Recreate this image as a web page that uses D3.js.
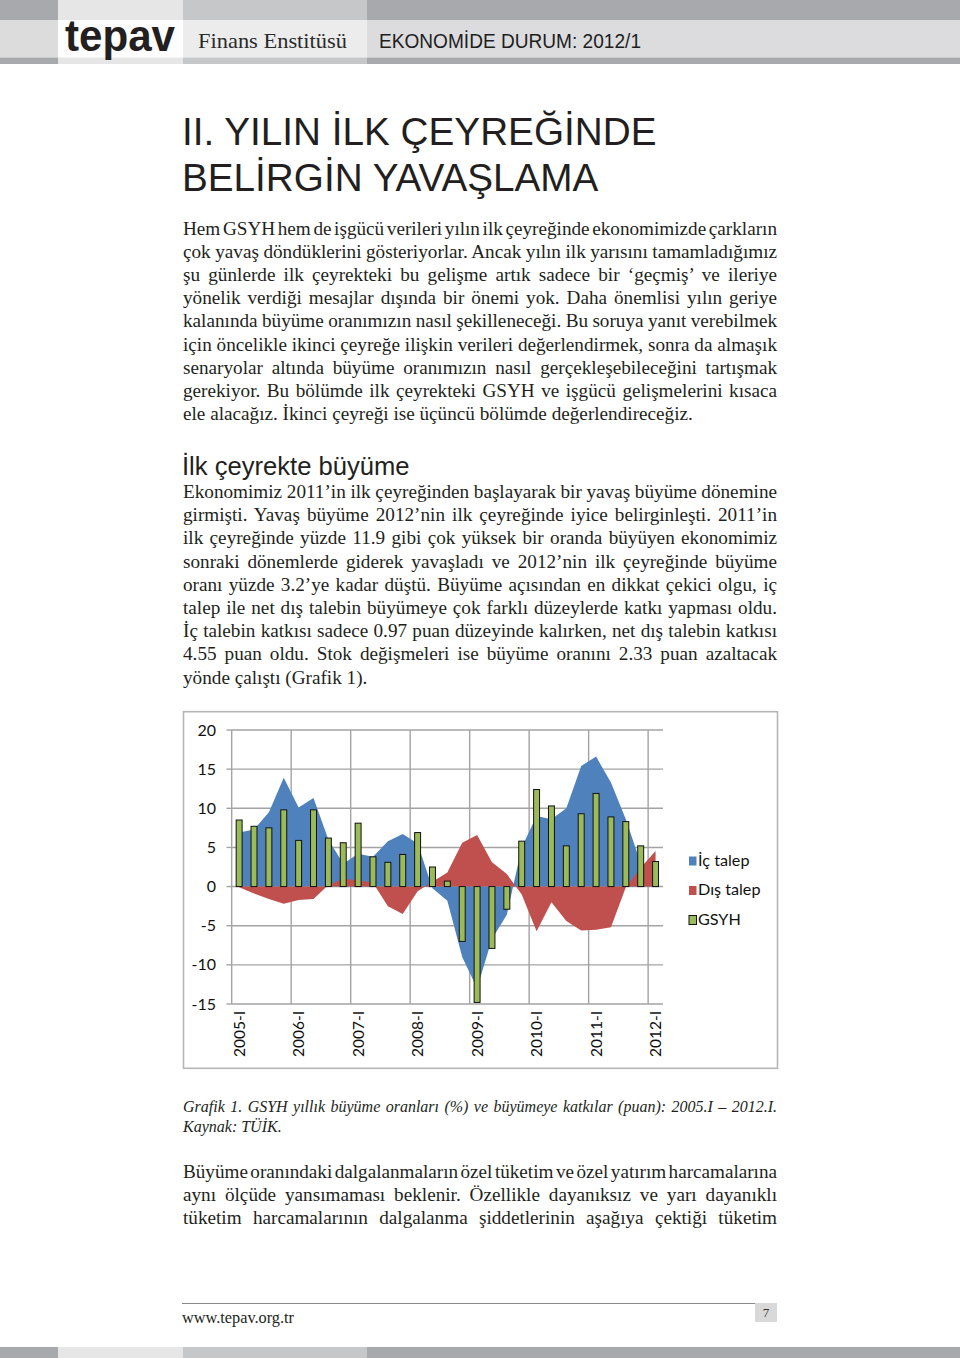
<!DOCTYPE html>
<html><head><meta charset="utf-8">
<script src="https://cdn.jsdelivr.net/npm/d3@7/dist/d3.min.js"></script>
<style>body{margin:0;background:#fff}svg{display:block}</style>
</head><body>
<svg id="page" width="960" height="1358"></svg>
<script>
// ---------- DATA ----------
const quarters = ["2005-I","2005-II","2005-III","2005-IV","2006-I","2006-II","2006-III","2006-IV",
  "2007-I","2007-II","2007-III","2007-IV","2008-I","2008-II","2008-III","2008-IV",
  "2009-I","2009-II","2009-III","2009-IV","2010-I","2010-II","2010-III","2010-IV",
  "2011-I","2011-II","2011-III","2011-IV","2012-I"];
const tickQuarters = ["2005-I","2006-I","2007-I","2008-I","2009-I","2010-I","2011-I","2012-I"];
const icTalep = [6.9, 7.3, 9.5, 13.9, 10.1, 11.3, 6.0, 2.9, 4.2, 3.8, 5.8, 6.7, 5.5, -0.2, -1.8,
  -9.0, -13.0, -6.7, -3.6, 5.0, 9.0, 8.6, 10.0, 15.4, 16.6, 13.3, 8.6, 3.0, 0.97];
const disTalep = [-0.1, -0.9, -1.6, -2.2, -1.7, -1.6, 0.2, 1.0, 0.8, 0.5, -2.5, -3.5, -0.6, 0.6, 1.8,
  5.6, 6.6, 3.1, 1.6, -1.0, -5.7, -2.0, -4.4, -5.6, -5.5, -5.2, -0.1, 2.4, 4.55];
const gsyh = [8.5, 7.7, 7.5, 9.8, 5.9, 9.8, 6.2, 5.6, 8.1, 3.8, 3.1, 4.1, 6.9, 2.5, 0.7,
  -7.0, -14.8, -7.9, -2.9, 5.8, 12.4, 10.3, 5.2, 9.3, 11.9, 8.9, 8.3, 5.2, 3.2];
const yTicks = [20, 15, 10, 5, 0, -5, -10, -15];
const legendLabels = ["İç talep", "Dış talep", "GSYH"];

const headerLogo = "tepav";
const headerInstitute = "Finans Enstitüsü";
const headerIssue = "EKONOMİDE DURUM: 2012/1";
const titleLines = ["II. YILIN İLK ÇEYREĞİNDE", "BELİRGİN YAVAŞLAMA"];
const para1 = [
  "Hem GSYH hem de işgücü verileri yılın ilk çeyreğinde ekonomimizde çarkların",
  "çok yavaş döndüklerini gösteriyorlar. Ancak yılın ilk yarısını tamamladığımız",
  "şu günlerde ilk çeyrekteki bu gelişme artık sadece bir ‘geçmiş’ ve ileriye",
  "yönelik verdiği mesajlar dışında bir önemi yok. Daha önemlisi yılın geriye",
  "kalanında büyüme oranımızın nasıl şekilleneceği. Bu soruya yanıt verebilmek",
  "için öncelikle ikinci çeyreğe ilişkin verileri değerlendirmek, sonra da almaşık",
  "senaryolar altında büyüme oranımızın nasıl gerçekleşebileceğini tartışmak",
  "gerekiyor. Bu bölümde ilk çeyrekteki GSYH ve işgücü gelişmelerini kısaca",
  "ele alacağız. İkinci çeyreği ise üçüncü bölümde değerlendireceğiz."
];
const heading2 = "İlk çeyrekte büyüme";
const para2 = [
  "Ekonomimiz 2011’in ilk çeyreğinden başlayarak bir yavaş büyüme dönemine",
  "girmişti. Yavaş büyüme 2012’nin ilk çeyreğinde iyice belirginleşti. 2011’in",
  "ilk çeyreğinde yüzde 11.9 gibi çok yüksek bir oranda büyüyen ekonomimiz",
  "sonraki dönemlerde giderek yavaşladı ve 2012’nin ilk çeyreğinde büyüme",
  "oranı yüzde 3.2’ye kadar düştü. Büyüme açısından en dikkat çekici olgu, iç",
  "talep ile net dış talebin büyümeye çok farklı düzeylerde katkı yapması oldu.",
  "İç talebin katkısı sadece 0.97 puan düzeyinde kalırken, net dış talebin katkısı",
  "4.55 puan oldu. Stok değişmeleri ise büyüme oranını 2.33 puan azaltacak",
  "yönde çalıştı (Grafik 1)."
];
const caption = [
  "Grafik 1. GSYH yıllık büyüme oranları (%) ve büyümeye katkılar (puan): 2005.I – 2012.I.",
  "Kaynak: TÜİK."
];
const para3 = [
  "Büyüme oranındaki dalgalanmaların özel tüketim ve özel yatırım harcamalarına",
  "aynı ölçüde yansımaması beklenir. Özellikle dayanıksız ve yarı dayanıklı",
  "tüketim harcamalarının dalgalanma şiddetlerinin aşağıya çektiği tüketim"
];
const footerUrl = "www.tepav.org.tr";
const pageNumber = "7";

// ---------- PAGE ----------
const svg = d3.select("#page");
const ink = "#231f20";
const serif = "'Liberation Serif', 'Times New Roman', serif";
const sans = "'Liberation Sans', Arial, sans-serif";

// header / footer bands
const segs = [[0, 58], [58, 183], [183, 367], [367, 960]];
const stripCol = ["#a8a9ac", "#e6e6e7", "#c6c7c9", "#a8a9ac"];
const bandCol = ["#dcdcdd", "#fdfdfd", "#ececed", "#dcdcde"];
segs.forEach((s, i) => {
  svg.append("rect").attr("x", s[0]).attr("y", 0).attr("width", s[1] - s[0]).attr("height", 20).attr("fill", stripCol[i]);
  svg.append("rect").attr("x", s[0]).attr("y", 20).attr("width", s[1] - s[0]).attr("height", 37.5).attr("fill", bandCol[i]);
  svg.append("rect").attr("x", s[0]).attr("y", 57.5).attr("width", s[1] - s[0]).attr("height", 6.5).attr("fill", stripCol[i]);
  svg.append("rect").attr("x", s[0]).attr("y", 1347).attr("width", s[1] - s[0]).attr("height", 11).attr("fill", stripCol[i]);
});
svg.append("text").text(headerLogo).attr("x", 65).attr("y", 51).attr("font-family", sans)
  .attr("font-weight", "bold").attr("font-size", 44).attr("fill", ink)
  .attr("textLength", 110).attr("lengthAdjust", "spacingAndGlyphs");
svg.append("text").text(headerInstitute).attr("x", 198).attr("y", 48).attr("font-family", serif)
  .attr("font-size", 21).attr("fill", "#2a2a2a").attr("textLength", 149).attr("lengthAdjust", "spacingAndGlyphs");
svg.append("text").text(headerIssue).attr("x", 379).attr("y", 47.5).attr("font-family", sans)
  .attr("font-size", 20).attr("fill", "#1e1e1e").attr("textLength", 262).attr("lengthAdjust", "spacingAndGlyphs");

// title
titleLines.forEach((t, i) => {
  svg.append("text").text(t).attr("x", 182).attr("y", [145, 191][i]).attr("font-family", sans)
    .attr("font-size", 38.7).attr("fill", ink);
});

// justified text helper
const LEFT = 183, WIDTH = 594;
function textBlock(lines, y0, lh, opts) {
  lines.forEach((t, i) => {
    const el = svg.append("text").text(t).attr("x", LEFT).attr("y", y0 + i * lh)
      .attr("font-family", serif).attr("font-size", opts.size).attr("fill", ink)
      .attr("font-style", opts.italic ? "italic" : "normal");
    const justify = opts.lastJustified ? true : i < lines.length - 1;
    if (justify) {
      const nat = el.node().getComputedTextLength();
      const spaces = (t.match(/ /g) || []).length;
      let ws = spaces > 0 ? (WIDTH - nat) / spaces : 0;
      const minWs = -opts.size * 0.12;
      if (ws < minWs) {
        ws = minWs;
        el.attr("word-spacing", ws);
        el.attr("textLength", WIDTH).attr("lengthAdjust", "spacingAndGlyphs");
      } else {
        el.attr("word-spacing", ws);
      }
    }
  });
}
textBlock(para1, 235, 23.1, {size: 19.2});
svg.append("text").text(heading2).attr("x", 182).attr("y", 475).attr("font-family", sans)
  .attr("font-size", 25.6).attr("fill", ink);
textBlock(para2, 498, 23.2, {size: 19.2});
textBlock(caption, 1112, 20, {size: 16, italic: true});
textBlock(para3, 1178, 23.1, {size: 19.2, lastJustified: true});

// footer
svg.append("line").attr("x1", 182).attr("x2", 777).attr("y1", 1303.5).attr("y2", 1303.5)
  .attr("stroke", "#8a8a8a").attr("stroke-width", 1);
svg.append("text").text(footerUrl).attr("x", 182).attr("y", 1323).attr("font-family", serif)
  .attr("font-size", 16.3).attr("fill", ink);
svg.append("rect").attr("x", 755).attr("y", 1303).attr("width", 22).attr("height", 19).attr("fill", "#d9d9da");
svg.append("text").text(pageNumber).attr("x", 766).attr("y", 1317).attr("text-anchor", "middle")
  .attr("font-family", serif).attr("font-size", 13).attr("fill", "#333");

// ---------- CHART ----------
svg.append("rect").attr("x", 183.5).attr("y", 711.7).attr("width", 594).attr("height", 356.6)
  .attr("fill", "#fff").attr("stroke", "#b5b5b5").attr("stroke-width", 1.6);

const x = d3.scaleBand().domain(quarters).range([231.7, 663]).padding(0);
const y = d3.scaleLinear().domain([-15, 20]).range([1004, 730]);
const bw = x.bandwidth();
const cx = q => x(q) + bw / 2;
const chart = svg.append("g");
const chartFont = "Lato, 'Open Sans', sans-serif";
const grid = "#a3a3a3";

// grid
chart.selectAll("line.h").data(yTicks).join("line").attr("class", "h")
  .attr("x1", 231.7).attr("x2", 663).attr("y1", d => y(d)).attr("y2", d => y(d))
  .attr("stroke", grid).attr("stroke-width", 1.4);
chart.selectAll("line.v").data(tickQuarters).join("line").attr("class", "v")
  .attr("x1", d => x(d)).attr("x2", d => x(d)).attr("y1", y(20)).attr("y2", y(-15))
  .attr("stroke", grid).attr("stroke-width", 1.4);
chart.selectAll("line.t").data(yTicks).join("line").attr("class", "t")
  .attr("x1", 226.5).attr("x2", 231.7).attr("y1", d => y(d)).attr("y2", d => y(d))
  .attr("stroke", grid).attr("stroke-width", 1.4);
chart.selectAll("text.yl").data(yTicks).join("text").attr("class", "yl")
  .attr("x", 216).attr("y", d => y(d) + 5.5).attr("text-anchor", "end")
  .attr("font-family", chartFont).attr("font-size", 16).attr("fill", "#111").text(d => d);
chart.selectAll("text.xl").data(tickQuarters).join("text").attr("class", "xl")
  .attr("transform", d => `translate(${cx(d) + 5.8},1011) rotate(-90)`).attr("text-anchor", "end")
  .attr("font-family", chartFont).attr("font-size", 15.5).attr("fill", "#111").text(d => d);

// areas
const area = d3.area().x((d, i) => cx(quarters[i])).y0(y(0)).y1(d => y(d));
chart.append("path").datum(icTalep).attr("d", area).attr("fill", "#4f81bd");
chart.append("path").datum(disTalep).attr("d", area).attr("fill", "#c0504d");

// bars
chart.selectAll("rect.bar").data(gsyh).join("rect").attr("class", "bar")
  .attr("x", (d, i) => cx(quarters[i]) - bw * 0.2).attr("width", bw * 0.4)
  .attr("y", d => Math.min(y(d), y(0))).attr("height", d => Math.abs(y(d) - y(0)))
  .attr("fill", "#9bbb59").attr("stroke", "#111").attr("stroke-width", 1);

// legend
const legCols = ["#4f81bd", "#c0504d", "#9bbb59"];
legendLabels.forEach((l, i) => {
  const by = 865.5 + i * 29.5;
  chart.append("rect").attr("x", 689).attr("y", by - 9).attr("width", 7.5).attr("height", 9)
    .attr("fill", legCols[i]).attr("stroke", i === 2 ? "#111" : "none").attr("stroke-width", 1);
  chart.append("text").text(l).attr("x", 698).attr("y", by).attr("font-family", chartFont)
    .attr("font-size", 16.2).attr("fill", "#111");
});
</script>
</body></html>
